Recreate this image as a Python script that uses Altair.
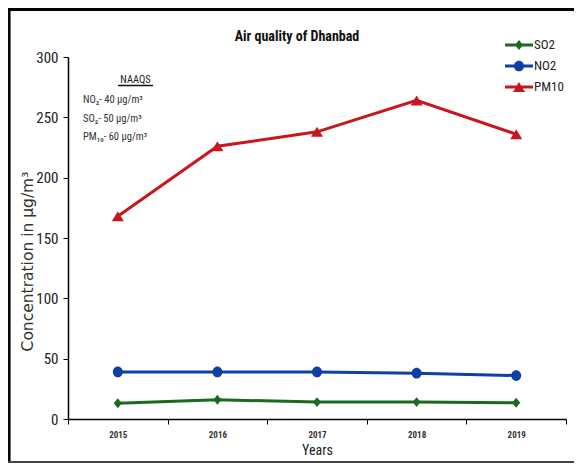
import altair as alt
import pandas as pd

# ---- data ----
YEARS = ["2015", "2016", "2017", "2018", "2019"]
SERIES = ["SO2", "NO2", "PM10"]
SO2 = [13, 16, 14, 14, 13.5]
NO2 = [39, 39, 39, 38, 36]
PM10 = [168, 226, 238, 264, 236]
COLORS = ["#1a6b1f", "#0e3ea6", "#c8161d"]
TITLE = "Air quality of Dhanbad"
NAAQS_HEAD = "NAAQS"
NAAQS_LINES = ["NO\u2082- 40 \u03bcg/m\u00b3", "SO\u2082- 50 \u03bcg/m\u00b3", "PM\u2081\u2080- 60 \u03bcg/m\u00b3"]

rows = []
for name, vals in zip(SERIES, [SO2, NO2, PM10]):
    for y, v in zip(YEARS, vals):
        rows.append({"year": y, "series": name, "value": v})
df = pd.DataFrame(rows)

FONT = "Liberation Sans Narrow, Roboto Condensed, Arial Narrow, sans-serif"

# marker shapes (unit box), and legend symbols (line + marker)
MARKERS = [
    "M0,-0.83L0.67,0L0,0.83L-0.67,0Z",
    "M0.83,0A0.83,0.9 0 1,1 -0.83,0A0.83,0.9 0 1,1 0.83,0Z",
    "M0,-0.83L1,0.83L-1,0.83Z",
]
LINE = "M-1,-0.1L1,-0.1L1,0.1L-1,0.1Z "
LEG = [
    LINE + "M0,-0.36L0.29,0L0,0.36L-0.29,0Z",
    LINE + "M0.36,0A0.36,0.38 0 1,1 -0.36,0A0.36,0.38 0 1,1 0.36,0Z",
    LINE + "M0,-0.36L0.43,0.36L-0.43,0.36Z",
]

x_enc = alt.X(
    "year:N",
    sort=YEARS,
    scale=alt.Scale(paddingInner=0, paddingOuter=0),
    axis=alt.Axis(
        title="Years",
        tickBand="extent",
        labelAngle=0,
        labelFont=FONT,
        labelFontSize=9,
        labelFontWeight="bold",
        labelColor="#333",
        labelPadding=6,
        tickSize=5,
        tickColor="black",
        domainColor="black",
        domainWidth=1.5,
        titleFont=FONT,
        titleFontSize=14,
        titleFontWeight="normal",
        titleColor="#222",
        titleY=31,
        titleBaseline="middle",
    ),
)
y_enc = alt.Y(
    "value:Q",
    scale=alt.Scale(domain=[0, 300]),
    axis=alt.Axis(
        title="Concentration in \u03bcg/m\u00b3",
        values=[0, 50, 100, 150, 200, 250, 300],
        grid=False,
        labelFont=FONT,
        labelFontSize=15,
        labelColor="#222",
        labelPadding=5,
        tickSize=5,
        tickColor="black",
        domainColor="black",
        domainWidth=1.5,
        titleFont="DejaVu Sans",
        titleFontSize=15.5,
        titleFontWeight="normal",
        titleColor="#333",
        titleX=-41,
        titleY=204,
        titleAngle=270,
        titleAlign="center",
        titleBaseline="middle",
    ),
)

color_plain = alt.Color("series:N", scale=alt.Scale(domain=SERIES, range=COLORS), legend=None)

base = alt.Chart(df).encode(x=x_enc, y=y_enc)

lines = base.mark_line(strokeWidth=3).encode(color=color_plain)
points = base.mark_point(filled=True, opacity=1, size=144, strokeWidth=0).encode(
    color=color_plain,
    shape=alt.Shape("series:N", scale=alt.Scale(domain=SERIES, range=MARKERS), legend=None),
)

leg = alt.Legend(
    title=None,
    orient="none",
    legendX=437,
    legendY=-26,
    padding=0,
    symbolSize=784,
    symbolStrokeWidth=0,
    labelFont=FONT,
    labelFontSize=13,
    labelColor="#222",
    labelOffset=1,
    rowPadding=0,
)
legend_layer = (
    base.mark_point(filled=True, opacity=1, size=144)
    .encode(
        color=alt.Color("series:N", scale=alt.Scale(domain=SERIES, range=COLORS), legend=leg),
        shape=alt.Shape("series:N", scale=alt.Scale(domain=SERIES, range=LEG), legend=leg),
    )
    .transform_filter("false")
)

one = alt.Data(values=[{}])

title = alt.Chart(one).mark_text(
    text=TITLE, font=FONT, fontSize=14, fontWeight="bold", color="#111", baseline="middle", align="center"
).encode(x=alt.value(229), y=alt.value(-20))

naaqs_head = alt.Chart(one).mark_text(
    text=NAAQS_HEAD, font=FONT, fontSize=10.5, color="#222", baseline="middle", align="center"
).encode(x=alt.value(67.5), y=alt.value(23))
underline = alt.Chart(one).mark_rule(color="#111", strokeWidth=1.5).encode(
    x=alt.value(50), x2=alt.value(85), y=alt.value(28.5)
)
naaqs_body = alt.Chart(one).mark_text(
    text=NAAQS_LINES, font=FONT, fontSize=10.5, color="#333", baseline="middle", align="left", lineHeight=18.5
).encode(x=alt.value(15), y=alt.value(43))

frame_top = alt.Chart(one).mark_rule(color="black", strokeWidth=3).encode(
    x=alt.value(-60), x2=alt.value(520), y=alt.value(-47.5)
)
frame_left = alt.Chart(one).mark_rule(color="black", strokeWidth=2.5).encode(
    x=alt.value(-58.7), y=alt.value(-49), y2=alt.value(406)
)
frame_bottom = alt.Chart(one).mark_rule(color="#444", strokeWidth=2).encode(
    x=alt.value(-60), x2=alt.value(520), y=alt.value(405)
)

chart = (
    alt.layer(
        frame_top, frame_left, frame_bottom,
        lines, points, legend_layer,
        title, naaqs_head, underline, naaqs_body,
    )
    .resolve_scale(color="independent", shape="independent")
    .properties(
        width=498,
        height=362,
        autosize=alt.AutoSizeParams(type="none"),
        padding={"left": 60, "top": 49, "right": 8, "bottom": 44},
        background="white",
    )
    .configure_view(stroke=None)
)

chart.save("out.html", embed_options={"renderer": "svg", "actions": False})
